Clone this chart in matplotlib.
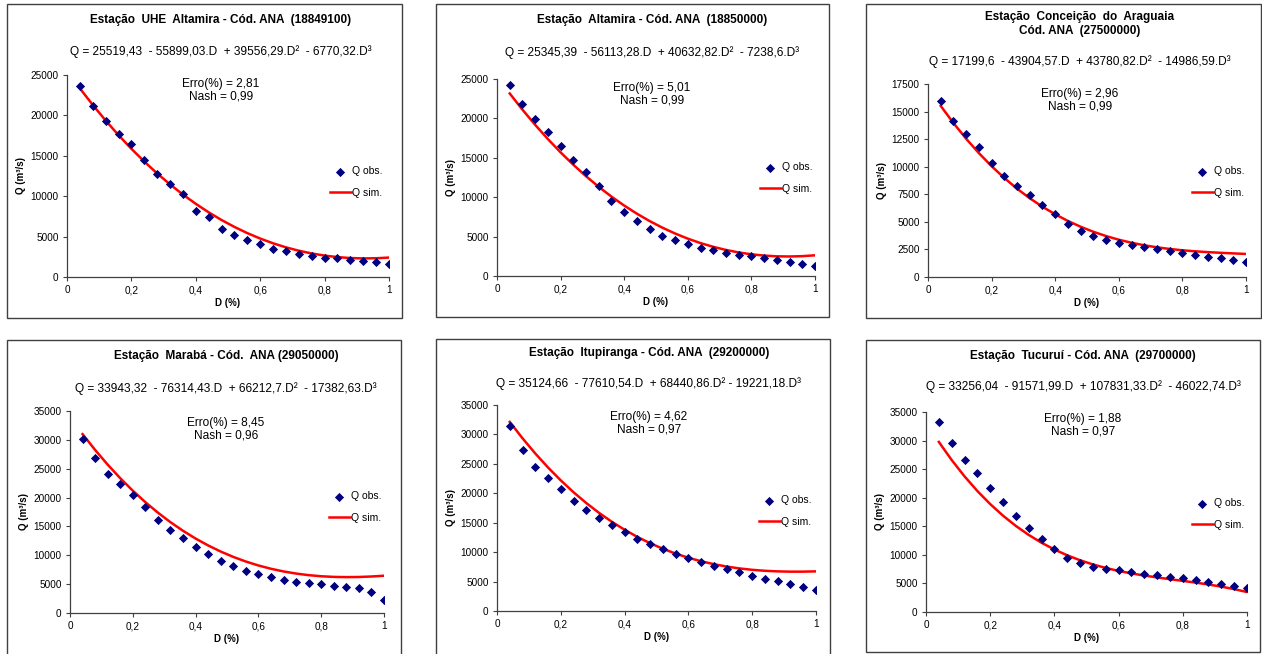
import matplotlib
matplotlib.use('Agg')
import matplotlib.pyplot as plt
from matplotlib.patches import Rectangle
from matplotlib.ticker import FixedLocator, FuncFormatter

plt.rcParams['font.family'] = ['Liberation Sans', 'DejaVu Sans']

W, H = 1262, 654

## Data

d_perm = [0.04, 0.08, 0.12, 0.16, 0.20, 0.24, 0.28, 0.32, 0.36, 0.40, 0.44, 0.48, 0.52,
          0.56, 0.60, 0.64, 0.68, 0.72, 0.76, 0.80, 0.84, 0.88, 0.92, 0.96, 1.00]

titles = ['Estação  UHE  Altamira - Cód. ANA  (18849100)',
          'Estação  Altamira - Cód. ANA  (18850000)',
          'Estação  Conceição  do  Araguaia\nCód. ANA  (27500000)',
          'Estação  Marabá - Cód.  ANA (29050000)',
          'Estação  Itupiranga - Cód. ANA  (29200000)',
          'Estação  Tucuruí - Cód. ANA  (29700000)']

equations = ['Q = 25519,43  - 55899,03.D  + 39556,29.D²  - 6770,32.D³',
             'Q = 25345,39  - 56113,28.D  + 40632,82.D²  - 7238,6.D³',
             'Q = 17199,6  - 43904,57.D  + 43780,82.D²  - 14986,59.D³',
             'Q = 33943,32  - 76314,43.D  + 66212,7.D²  - 17382,63.D³',
             'Q = 35124,66  - 77610,54.D  + 68440,86.D² - 19221,18.D³',
             'Q = 33256,04  - 91571,99.D  + 107831,33.D²  - 46022,74.D³']

erro = ['2,81', '5,01', '2,96', '8,45', '4,62', '1,88']
nash = ['0,99', '0,99', '0,99', '0,96', '0,97', '0,97']

q_obs_18849100 = [23600, 21200, 19300, 17700, 16400, 14500, 12800, 11500, 10300, 8200, 7400, 6000, 5200,
                  4600, 4100, 3500, 3200, 2900, 2600, 2400, 2300, 2100, 1950, 1800, 1650]
q_sim_18849100 = [23346, 21297, 19369, 17560, 15867, 14287, 12819, 11460, 10206, 9055, 8004, 7052, 6196,
                  5432, 4758, 4171, 3670, 3251, 2912, 2650, 2462, 2346, 2300, 2321, 2406]

q_obs_18850000 = [24240, 21790, 19970, 18230, 16540, 14720, 13160, 11380, 9560, 8160, 6980, 5920, 5120,
                  4570, 4020, 3550, 3260, 2960, 2710, 2500, 2280, 2030, 1820, 1570, 1310]
q_sim_18850000 = [23165, 21112, 19183, 17377, 15689, 14118, 12660, 11313, 10072, 8938, 7905, 6972, 6135,
                  5393, 4741, 4177, 3701, 3305, 2991, 2753, 2591, 2498, 2476, 2519, 2626]

q_obs_27500000 = [15990, 14110, 12990, 11810, 10320, 9170, 8240, 7420, 6570, 5690, 4840, 4180, 3720,
                  3330, 3090, 2880, 2700, 2510, 2330, 2150, 2000, 1850, 1700, 1540, 1360]
q_sim_27500000 = [15513, 13960, 12535, 11235, 10050, 8978, 8010, 7143, 6369, 5684, 5081, 4556, 4101,
                  3711, 3381, 3105, 2877, 2691, 2542, 2423, 2329, 2255, 2194, 2141, 2089]

q_obs_29050000 = [30190, 26830, 24160, 22370, 20460, 18370, 16170, 14370, 12980, 11470, 10140, 9040, 8230,
                  7360, 6780, 6320, 5740, 5450, 5220, 4980, 4750, 4520, 4290, 3710, 2320]
q_sim_29050000 = [30995, 28253, 25708, 23357, 21190, 19202, 17384, 15732, 14240, 12899, 11703, 10645, 9719,
                  8918, 8236, 7666, 7200, 6834, 6557, 6367, 6256, 6215, 6240, 6324, 6459]

q_obs_29200000 = [31430, 27300, 24410, 22600, 20670, 18750, 17100, 15740, 14610, 13480, 12290, 11330, 10530,
                  9680, 9060, 8380, 7700, 7190, 6570, 6000, 5490, 5040, 4590, 4130, 3620]
q_sim_29200000 = [32130, 29344, 26765, 24380, 22187, 20174, 18338, 16668, 15158, 13802, 12589, 11515, 10571,
                  9750, 9046, 8448, 7953, 7551, 7234, 6998, 6832, 6730, 6684, 6688, 6734]

q_obs_29700000 = [33310, 29580, 26540, 24270, 21760, 19190, 16800, 14640, 12720, 11030, 9510, 8520, 7820,
                  7580, 7350, 7000, 6650, 6420, 6180, 5890, 5600, 5250, 4900, 4610, 4260]
q_sim_29700000 = [29763, 26596, 23740, 21175, 18887, 16854, 15060, 13487, 12118, 10935, 9920, 9055, 8326,
                  7710, 7191, 6753, 6377, 6046, 5741, 5446, 5144, 4813, 4440, 4006, 3493]

y_max = [25000, 25000, 17500, 35000, 35000, 35000]
y_step = [5000, 5000, 2500, 5000, 5000, 5000]

obs_series = [q_obs_18849100, q_obs_18850000, q_obs_27500000, q_obs_29050000, q_obs_29200000, q_obs_29700000]
sim_series = [q_sim_18849100, q_sim_18850000, q_sim_27500000, q_sim_29050000, q_sim_29200000, q_sim_29700000]

## Layout (pixel boxes: frame, plot area, text rows, legend anchor)

frames = [(7, 4, 402, 318), (436, 4, 829, 317), (866, 4, 1261, 318),
          (7, 340, 401, 656), (436, 339, 830, 656), (866, 340, 1260, 652)]
plot_boxes = [(67, 75, 389, 277), (497, 79, 815, 276), (928, 84, 1246, 277),
              (70, 411, 384, 613), (497, 405, 816, 611), (926, 412, 1247, 612)]
# center x, title y, equation y, erro/nash y
text_rows = [(221, 20, 52, 90), (652, 20, 53, 94), (1080, 24, 62, 100),
             (226, 356, 389, 429), (649, 353, 384, 423), (1083, 356, 387, 425)]
legend_pos = [(330, 182), (760, 178), (1192, 182), (329, 507), (759, 511), (1192, 514)]


def fx(x):
    return x / W


def fy(y):
    return 1 - y / H


def comma_fmt(v, pos):
    if abs(v - round(v)) < 1e-9:
        return '%d' % round(v)
    return ('%.1f' % v).replace('.', ',')


fig = plt.figure(figsize=(W / 100, H / 100), dpi=100)

for i in range(6):
    # outer frame of each chart
    x0, y0, x1, y1 = frames[i]
    fig.patches.append(Rectangle((fx(x0), fy(y1)), fx(x1 - x0), (y1 - y0) / H,
                                 transform=fig.transFigure, fill=False,
                                 edgecolor='#404040', linewidth=1.0))

    px0, py0, px1, py1 = plot_boxes[i]
    ax = fig.add_axes([fx(px0), fy(py1), fx(px1 - px0), (py1 - py0) / H])

    ax.scatter(d_perm, obs_series[i], marker='D', s=22, color='#000080',
               linewidths=0, zorder=3, label='Q obs.')
    ax.plot(d_perm, sim_series[i], color='#ff0000', linewidth=1.8, zorder=2, label='Q sim.')

    ax.set_xlim(0, 1)
    ax.set_ylim(0, y_max[i])
    ax.xaxis.set_major_locator(FixedLocator([0, 0.2, 0.4, 0.6, 0.8, 1.0]))
    ax.xaxis.set_major_formatter(FuncFormatter(comma_fmt))
    ax.yaxis.set_major_locator(FixedLocator(list(range(0, y_max[i] + 1, y_step[i]))))
    ax.tick_params(direction='out', length=3, width=0.8, labelsize=7.2, pad=3, color='#404040')
    for s in ['top', 'right']:
        ax.spines[s].set_visible(False)
    for s in ['left', 'bottom']:
        ax.spines[s].set_linewidth(0.9)
        ax.spines[s].set_color('#404040')
    ax.set_xlabel('D (%)', fontsize=7, fontweight='bold', labelpad=2)
    ax.set_ylabel('Q (m³/s)', fontsize=7, fontweight='bold', labelpad=3)
    ax.patch.set_alpha(0)

    cx, ty, ey, ry = text_rows[i]
    fig.text(fx(cx), fy(ty), titles[i], ha='center', va='center', fontsize=8.5,
             fontweight='bold', linespacing=1.2)
    fig.text(fx(cx), fy(ey), equations[i], ha='center', va='center', fontsize=8.6)
    fig.text(fx(cx), fy(ry), 'Erro(%%) = %s\nNash = %s' % (erro[i], nash[i]),
             ha='center', va='center', fontsize=8.6, linespacing=1.1)

    lx, ly = legend_pos[i]
    ax.legend(loc='center left', bbox_to_anchor=(fx(lx), fy(ly)),
              bbox_transform=fig.transFigure, frameon=False, fontsize=7.5,
              handlelength=2.0, handletextpad=0.1, labelspacing=1.1,
              borderpad=0, borderaxespad=0, scatterpoints=1)

fig.savefig('out.png', dpi=100)
